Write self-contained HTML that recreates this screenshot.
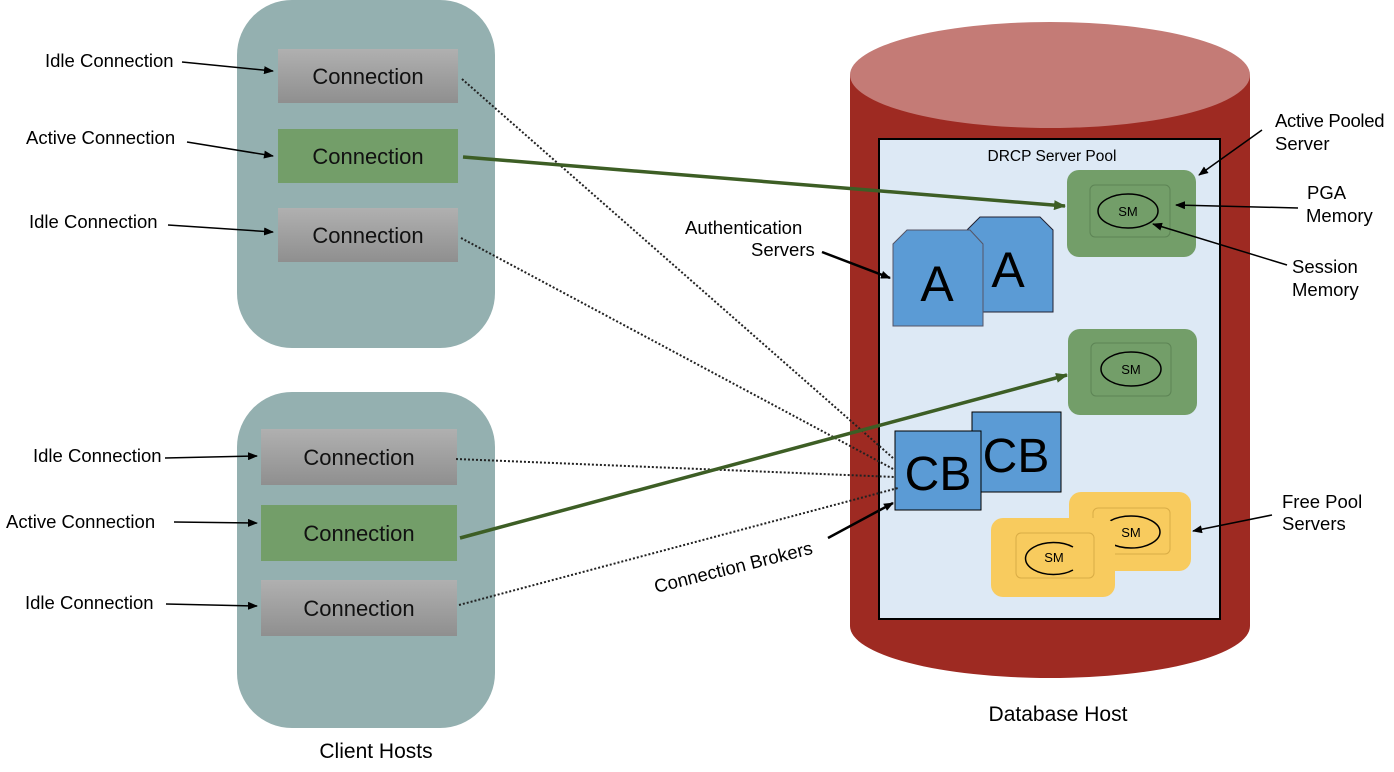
<!DOCTYPE html>
<html><head><style>body{margin:0;background:#fff}svg{display:block}text{font-family:"Liberation Sans",sans-serif}</style></head><body>
<svg width="1394" height="772" viewBox="0 0 1394 772" xmlns="http://www.w3.org/2000/svg">
<defs>
<linearGradient id="g" x1="0" y1="0" x2="0" y2="1"><stop offset="0" stop-color="#b0b0b0"/><stop offset="1" stop-color="#8f8f8f"/></linearGradient>
<marker id="ar" markerWidth="10" markerHeight="8" refX="9" refY="4" orient="auto" markerUnits="userSpaceOnUse"><path d="M0,0 L10,4 L0,8 z" fill="#000"/></marker>
<marker id="ag" markerWidth="12" markerHeight="10" refX="11" refY="5" orient="auto" markerUnits="userSpaceOnUse"><path d="M0,0 L12,5 L0,10 z" fill="#3d5e25"/></marker>
</defs>
<rect x="237" y="0" width="258" height="348" rx="55" fill="#94b0b0"/>
<rect x="237" y="392" width="258" height="336" rx="55" fill="#94b0b0"/>
<g font-size="22" text-anchor="middle" fill="#111">
<rect x="278" y="49" width="180" height="54" fill="url(#g)"/><text x="368" y="84">Connection</text>
<rect x="278" y="129" width="180" height="54" fill="#739e69"/><text x="368" y="164">Connection</text>
<rect x="278" y="208" width="180" height="54" fill="url(#g)"/><text x="368" y="243">Connection</text>
<rect x="261" y="429" width="196" height="56" fill="url(#g)"/><text x="359" y="465">Connection</text>
<rect x="261" y="505" width="196" height="56" fill="#739e69"/><text x="359" y="541">Connection</text>
<rect x="261" y="580" width="196" height="56" fill="url(#g)"/><text x="359" y="616">Connection</text>
</g>
<text x="376" y="758" font-size="21" text-anchor="middle">Client Hosts</text>
<path d="M850,75 L850,626 A200,52 0 0 0 1250,626 L1250,75 z" fill="#9e2a22"/>
<ellipse cx="1050" cy="75" rx="200" ry="53" fill="#c47b76"/>
<text x="1058" y="721" font-size="21" text-anchor="middle">Database Host</text>
<rect x="879" y="139" width="341" height="480" fill="#dde9f5" stroke="#000" stroke-width="2"/>
<text x="1052" y="161" font-size="15.5" text-anchor="middle">DRCP Server Pool</text>
<rect x="1067" y="170" width="129" height="87" rx="12" fill="#739e69"/>
<rect x="1090" y="185" width="80" height="52" rx="5" fill="#739e69" stroke="#5d8455"/>
<ellipse cx="1128" cy="211" rx="30" ry="17" fill="none" stroke="#000" stroke-width="1.5"/>
<text x="1128" y="216" font-size="13" text-anchor="middle">SM</text>
<rect x="1068" y="329" width="129" height="86" rx="12" fill="#739e69"/>
<rect x="1091" y="343" width="80" height="53" rx="5" fill="#739e69" stroke="#5d8455"/>
<ellipse cx="1131" cy="369" rx="30" ry="17" fill="none" stroke="#000" stroke-width="1.5"/>
<text x="1131" y="374" font-size="13" text-anchor="middle">SM</text>
<rect x="1069" y="492" width="122" height="79" rx="12" fill="#f8cb5e"/>
<rect x="1093" y="508" width="77" height="46" rx="5" fill="#f8cb5e" stroke="#d9ac45"/>
<ellipse cx="1131" cy="532" rx="29" ry="16" fill="none" stroke="#000" stroke-width="1.5"/>
<text x="1131" y="537" font-size="13" text-anchor="middle">SM</text>
<rect x="991" y="518" width="124" height="79" rx="12" fill="#f8cb5e"/>
<rect x="1016" y="533" width="78" height="45" rx="5" fill="#f8cb5e" stroke="#d9ac45"/>
<path d="M1073,547 A28,16 0 1 0 1073,570" fill="none" stroke="#000" stroke-width="1.5"/>
<text x="1054" y="562" font-size="13" text-anchor="middle">SM</text>
<path d="M980,217 L1040,217 L1053,230 L1053,312 L967,312 L967,230 z" fill="#5b9bd5" stroke="#223" stroke-width="1"/>
<text x="1008" y="287" font-size="50" text-anchor="middle">A</text>
<path d="M907,230 L970,230 L983,244 L983,326 L893,326 L893,244 z" fill="#5b9bd5" stroke="#556" stroke-width="1"/>
<text x="937" y="301" font-size="50" text-anchor="middle">A</text>
<rect x="972" y="412" width="89" height="80" fill="#5b9bd5" stroke="#000" stroke-width="1"/>
<text x="1016" y="472" font-size="48" text-anchor="middle">CB</text>
<rect x="895" y="431" width="86" height="79" fill="#5b9bd5" stroke="#000" stroke-width="1"/>
<text x="938" y="490" font-size="48" text-anchor="middle">CB</text>
<g stroke="#222" stroke-width="2" stroke-dasharray="2,2" fill="none">
<line x1="462" y1="79" x2="893" y2="458"/>
<line x1="461" y1="238" x2="895" y2="470"/>
<line x1="456" y1="459" x2="895" y2="477"/>
<line x1="459" y1="605" x2="898" y2="488"/>
</g>
<g stroke="#3d5e25" stroke-width="3.5" fill="none">
<line x1="463" y1="157" x2="1065" y2="206" marker-end="url(#ag)"/>
<line x1="460" y1="538" x2="1067" y2="375" marker-end="url(#ag)"/>
</g>
<g font-size="18.5" fill="#000">
<text x="45" y="67">Idle Connection</text>
<text x="26" y="144">Active Connection</text>
<text x="29" y="228">Idle Connection</text>
<text x="33" y="462">Idle Connection</text>
<text x="6" y="528">Active Connection</text>
<text x="25" y="609">Idle Connection</text>
<text x="685" y="234">Authentication</text>
<text x="751" y="256">Servers</text>
<text x="1275" y="127" letter-spacing="-0.3">Active Pooled</text>
<text x="1275" y="150">Server</text>
<text x="1307" y="199">PGA</text>
<text x="1306" y="222">Memory</text>
<text x="1292" y="273">Session</text>
<text x="1292" y="296">Memory</text>
<text x="1282" y="508">Free Pool</text>
<text x="1282" y="530">Servers</text>
<text x="656" y="593" transform="rotate(-14 656 593)">Connection Brokers</text>
</g>
<g stroke="#000" stroke-width="1.5" fill="none" marker-end="url(#ar)">
<line x1="182" y1="62" x2="273" y2="71"/>
<line x1="187" y1="142" x2="273" y2="156"/>
<line x1="168" y1="225" x2="273" y2="232"/>
<line x1="165" y1="458" x2="257" y2="456"/>
<line x1="174" y1="522" x2="257" y2="523"/>
<line x1="166" y1="604" x2="257" y2="606"/>
<line x1="1262" y1="130" x2="1199" y2="175"/>
<line x1="1298" y1="208" x2="1176" y2="205"/>
<line x1="1287" y1="265" x2="1153" y2="224"/>
<line x1="1272" y1="515" x2="1193" y2="531"/>
</g>
<g stroke="#000" stroke-width="2.5" fill="none" marker-end="url(#ar)">
<line x1="822" y1="252" x2="890" y2="278"/>
<line x1="828" y1="538" x2="893" y2="503"/>
</g>
</svg>
</body></html>
